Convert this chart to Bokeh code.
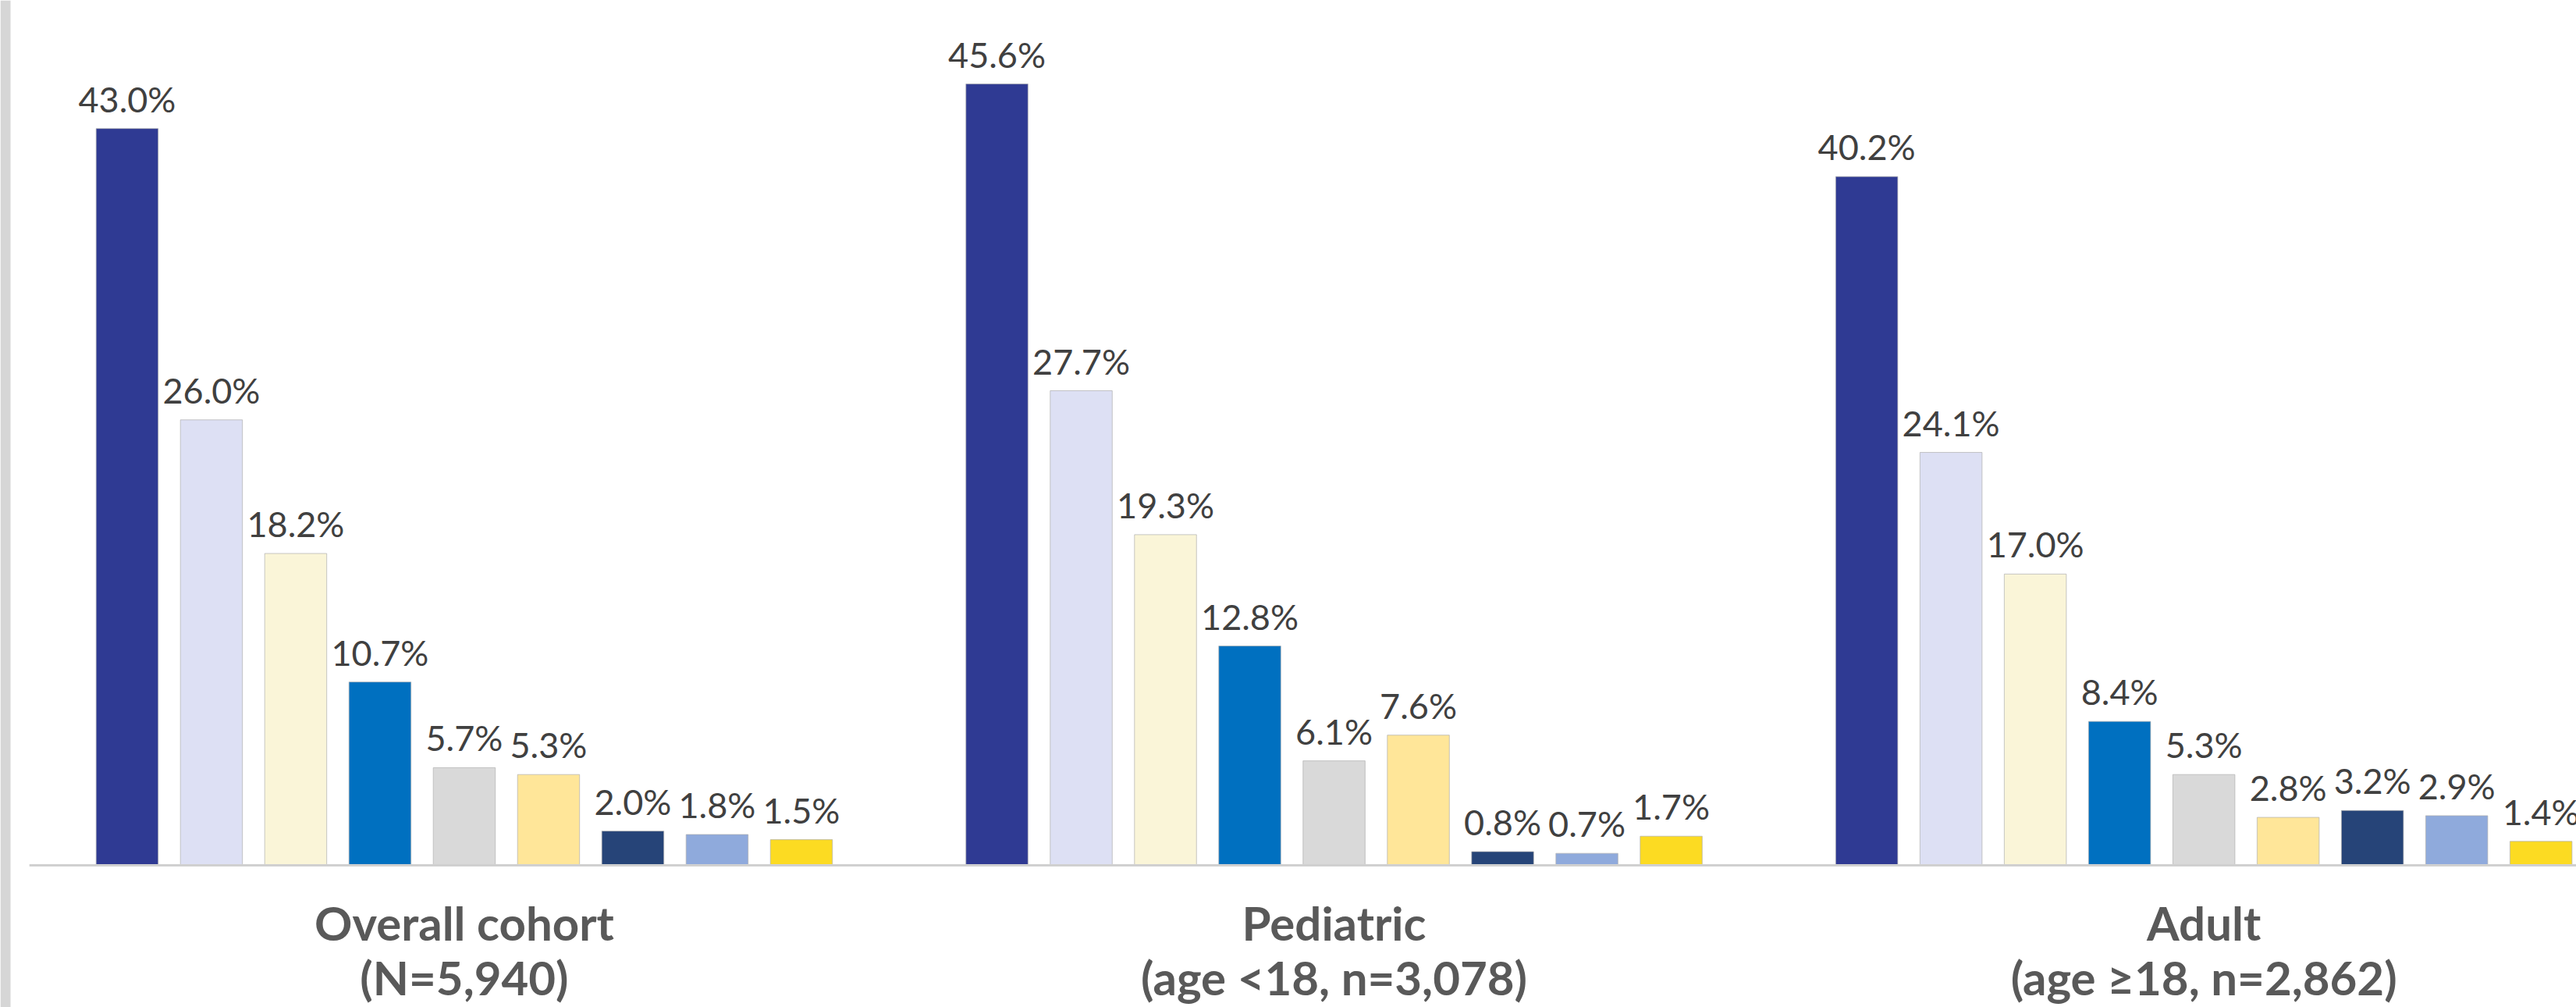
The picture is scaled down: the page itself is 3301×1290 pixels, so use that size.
from bokeh.plotting import figure
from bokeh.models import ColumnDataSource, Range1d, BoxAnnotation
from bokeh.core.properties import value
from bokeh.embed import file_html
from bokeh.resources import INLINE

# ---- data ----
groups = ["Overall cohort", "Pediatric", "Adult"]
group_ns = ["(N=5,940)", "(age <18, n=3,078)", "(age \u226518, n=2,862)"]
series = ["Category 1", "Category 2", "Category 3", "Category 4", "Category 5",
          "Category 6", "Category 7", "Category 8", "Category 9"]
series_colors = ["#2F3A93", "#DDE0F4", "#FAF5D8", "#0070C0", "#D9D9D9",
                 "#FFE699", "#264478", "#8FAADC", "#FCDB22"]
overall = [43.0, 26.0, 18.2, 10.7, 5.7, 5.3, 2.0, 1.8, 1.5]
pediatric = [45.6, 27.7, 19.3, 12.8, 6.1, 7.6, 0.8, 0.7, 1.7]
adult = [40.2, 24.1, 17.0, 8.4, 5.3, 2.8, 3.2, 2.9, 1.4]
values_by_group = [overall, pediatric, adult]

# ---- layout ----
GROUP_GAP = 1.32
pitch = len(series) + GROUP_GAP

xs, tops, cols, labs = [], [], [], []
for gi, vals in enumerate(values_by_group):
    for si, v in enumerate(vals):
        xs.append(gi * pitch + si)
        tops.append(v)
        cols.append(series_colors[si])
        labs.append(f"{v:.1f}%")
bars = ColumnDataSource(dict(x=xs, top=tops, color=cols, label=labs))

centers = [gi * pitch + (len(series) - 1) / 2 for gi in range(len(groups))]
gsrc = ColumnDataSource(dict(x=centers, y=[0] * len(groups), name=groups, n=group_ns))

axis_start = -0.5 - GROUP_GAP / 2
axis_end = len(groups) * pitch + axis_start

p = figure(width=3301, height=1290, output_backend="svg", toolbar_location=None,
           x_range=Range1d(-1.504, 29.06), y_range=Range1d(-8.29, 50.48),
           x_axis_type=None, y_axis_type=None,
           min_border_left=0, min_border_right=0, min_border_top=0, min_border_bottom=0)
p.outline_line_color = None
p.background_fill_color = "white"
p.border_fill_color = "white"

strip = BoxAnnotation(left=0, right=13, left_units="screen", right_units="screen",
                      fill_color="#D6D6D6", fill_alpha=1.0, line_color=None)
p.add_layout(strip)

p.vbar(x="x", top="top", bottom=0, width=0.736, source=bars,
       fill_color="color", line_color="#AFAFAF", line_width=1, line_alpha=0.7)

# category axis baseline
p.line(x=[axis_start, axis_end], y=[0, 0], line_color="#D0D0D0", line_width=3)

p.text(x="x", y="top", text="label", source=bars,
       text_font=value("Lato"), text_font_size="45px", text_color="#404040",
       text_align="center", text_baseline="alphabetic", y_offset=-38)

p.text(x="x", y="y", text="name", source=gsrc,
       text_font=value("Lato"), text_font_size="60px", text_font_style="bold",
       text_color="#595959", text_align="center", text_baseline="alphabetic", y_offset=73)
p.text(x="x", y="y", text="n", source=gsrc,
       text_font=value("Lato"), text_font_size="60px", text_font_style="bold",
       text_color="#595959", text_align="center", text_baseline="alphabetic", y_offset=143)

open("out.html", "w").write(file_html(p, INLINE))
